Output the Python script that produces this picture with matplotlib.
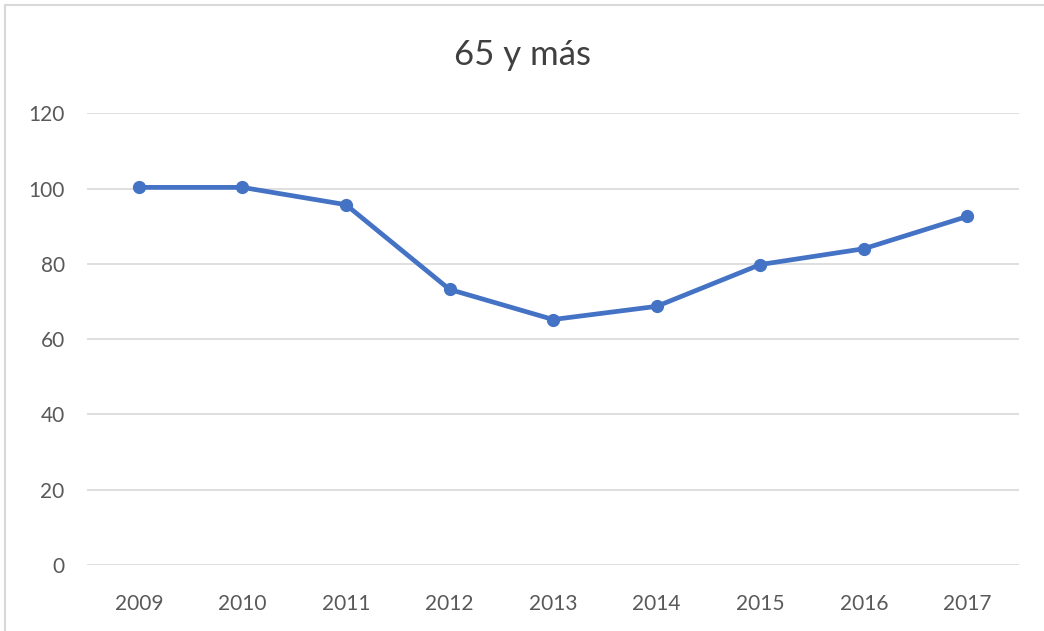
import matplotlib.pyplot as plt
from matplotlib.patches import Rectangle

years = ['2009', '2010', '2011', '2012', '2013', '2014', '2015', '2016', '2017']
values = [100.3, 100.3, 95.7, 73.2, 65.2, 68.7, 79.8, 84.0, 92.6]

plt.rcParams['font.family'] = ['Lato', 'DejaVu Sans']

fig = plt.figure(figsize=(10.44, 6.31), dpi=100)
ax = fig.add_axes([0.0833, 0.1046, 0.893, 0.716])

x = list(range(len(years)))
ax.plot(x, values, color='#4472C4', linewidth=3.4, marker='o', markersize=8.5, zorder=3)

ax.set_xlim(-0.5, len(years) - 0.5)
ax.set_ylim(0, 120)
ax.set_yticks(range(0, 121, 20))
ax.set_xticks(x)
ax.set_xticklabels(years)

ax.grid(axis='y', color='#d9d9d9', linewidth=1.2)
ax.set_axisbelow(True)
for s in ax.spines.values():
    s.set_visible(False)
ax.tick_params(length=0, labelsize=15, labelcolor='#595959')
ax.tick_params(axis='x', pad=21)
ax.tick_params(axis='y', pad=16)

fig.text(0.5, 0.913, '65 y más', ha='center', va='center', fontsize=25, color='#404040')

fig.patches.append(Rectangle((0.005, -0.1), 1.1, 1.092, transform=fig.transFigure,
                             fill=False, edgecolor='#d9d9d9', linewidth=1.5))

fig.savefig('out.png', dpi=100)
